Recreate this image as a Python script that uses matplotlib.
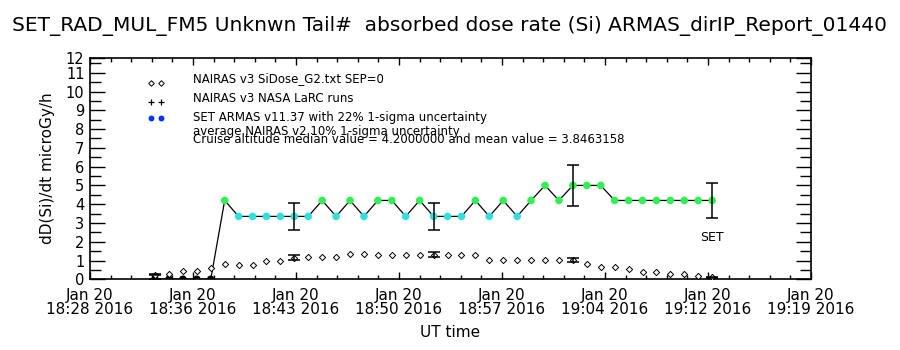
import numpy as np
import matplotlib
matplotlib.use("Agg")
import matplotlib.pyplot as plt

# data: one sample per minute, starting 18:33 UT (minutes after 18:00)
t_start = 33.0
nairas_v3 = [0.25, 0.26, 0.44, 0.44, 0.58, 0.79, 0.75, 0.75, 0.96, 0.96,
             1.16, 1.19, 1.19, 1.19, 1.37, 1.37, 1.32, 1.32, 1.32, 1.32,
             1.32, 1.32, 1.32, 1.32, 1.05, 1.05, 1.05, 1.05, 1.05, 1.05,
             1.05, 0.84, 0.63, 0.63, 0.53, 0.37, 0.37, 0.26, 0.26, 0.17,
             0.10]
armas = [0.0, 0.0, 0.0, 0.0, 0.0, 4.2, 3.35, 3.35, 3.35, 3.35,
         3.35, 3.35, 4.2, 3.35, 4.2, 3.35, 4.2, 4.2, 3.35, 4.2,
         3.35, 3.35, 3.35, 4.2, 3.35, 4.2, 3.35, 4.2, 5.0, 4.2,
         5.0, 5.0, 5.0, 4.2, 4.2, 4.2, 4.2, 4.2, 4.2, 4.2,
         4.2]
armas_err = 0.22   # 1-sigma fraction
nairas_err = 0.10

xtick_labels = ["Jan 20\n18:28 2016", "Jan 20\n18:36 2016", "Jan 20\n18:43 2016",
                "Jan 20\n18:50 2016", "Jan 20\n18:57 2016", "Jan 20\n19:04 2016",
                "Jan 20\n19:12 2016", "Jan 20\n19:19 2016"]
x_min, x_max = 28.33, 80.09
y_top = 11.8

title = "SET_RAD_MUL_FM5 Unknwn Tail#  absorbed dose rate (Si) ARMAS_dirIP_Report_01440"
legend_lines = ["NAIRAS v3 SiDose_G2.txt SEP=0",
                "NAIRAS v3 NASA LaRC runs",
                "SET ARMAS v11.37 with 22% 1-sigma uncertainty",
                "average NAIRAS v2 10% 1-sigma uncertainty",
                "Cruise altitude median value = 4.2000000 and mean value = 3.8463158"]

t = t_start + np.arange(len(armas))
armas = np.array(armas)
nairas_v3 = np.array(nairas_v3)

GREEN = "#33ee55"
CYAN = "#33dede"
colors = ["black" if v == 0 else (CYAN if v < 4 else GREEN) for v in armas]

fig = plt.figure(figsize=(9, 3.5), dpi=100)
ax = fig.add_axes([0.1, 0.202, 0.801, 0.633])

ax.plot(t, armas, color="black", lw=0.9, zorder=2)
ax.scatter(t, armas, c=colors, marker="o", s=30, linewidths=0, zorder=3)
ax.scatter(t, nairas_v3, marker="D", s=10, facecolors="white",
           edgecolors="black", linewidths=0.7, zorder=3)

# error bars every 10 samples
idx = np.arange(0, len(armas), 10)
ax.errorbar(t[idx], armas[idx], yerr=armas[idx] * armas_err, fmt="none",
            ecolor="black", elinewidth=1.1, capsize=4, capthick=1.1, zorder=4)
ax.errorbar(t[idx], nairas_v3[idx], yerr=nairas_v3[idx] * nairas_err, fmt="none",
            ecolor="black", elinewidth=1.1, capsize=4, capthick=1.1, zorder=4)

ax.set_xlim(x_min, x_max)
ax.set_ylim(0, y_top)
ax.set_yticks(list(range(12)) + [y_top])
ax.set_yticklabels([str(i) for i in range(12)] + ["12"], fontsize=10.5)
ax.set_yticks(np.arange(0.5, 11.6, 1.0), minor=True)
xt = np.linspace(x_min, x_max, 8)
ax.set_xticks(xt)
ax.set_xticklabels(xtick_labels, fontsize=11, linespacing=0.95)
ax.set_xticks(np.linspace(x_min, x_max, 36), minor=True)
ax.tick_params(axis="y", which="major", direction="in", length=11, width=1,
               right=True, pad=4)
ax.tick_params(axis="y", which="minor", direction="in", length=8, width=1, right=True)
ax.tick_params(axis="x", which="major", direction="in", length=5, width=1,
               top=True, pad=6)
ax.tick_params(axis="x", which="minor", direction="in", length=3, width=1, top=True)
for s in ax.spines.values():
    s.set_linewidth(1.2)

ax.set_ylabel("dD(Si)/dt microGy/h", fontsize=11, labelpad=8)
ax.set_xlabel("UT time", fontsize=11, labelpad=6)
fig.suptitle(title, fontsize=14.5, y=0.955)

# legend drawn IDL-style in axes coordinates
ax.scatter([0.084, 0.099], [0.886, 0.886], marker="D", s=8, facecolors="white",
           edgecolors="black", linewidths=0.7, transform=ax.transAxes, clip_on=False)
ax.scatter([0.084, 0.099], [0.80, 0.80], marker="+", s=18, color="black",
           linewidths=0.9, transform=ax.transAxes, clip_on=False)
ax.scatter([0.084, 0.099], [0.729, 0.729], marker="o", s=18, color="#0033ff",
           linewidths=0, transform=ax.transAxes, clip_on=False)
for y, txt in zip([0.904, 0.815, 0.729, 0.666, 0.632], legend_lines):
    ax.text(0.143, y, txt, fontsize=8.5, transform=ax.transAxes, va="center")

ax.text(t[-1], 2.2, "SET", fontsize=9, ha="center", va="center")

fig.savefig("out.png", dpi=100)
